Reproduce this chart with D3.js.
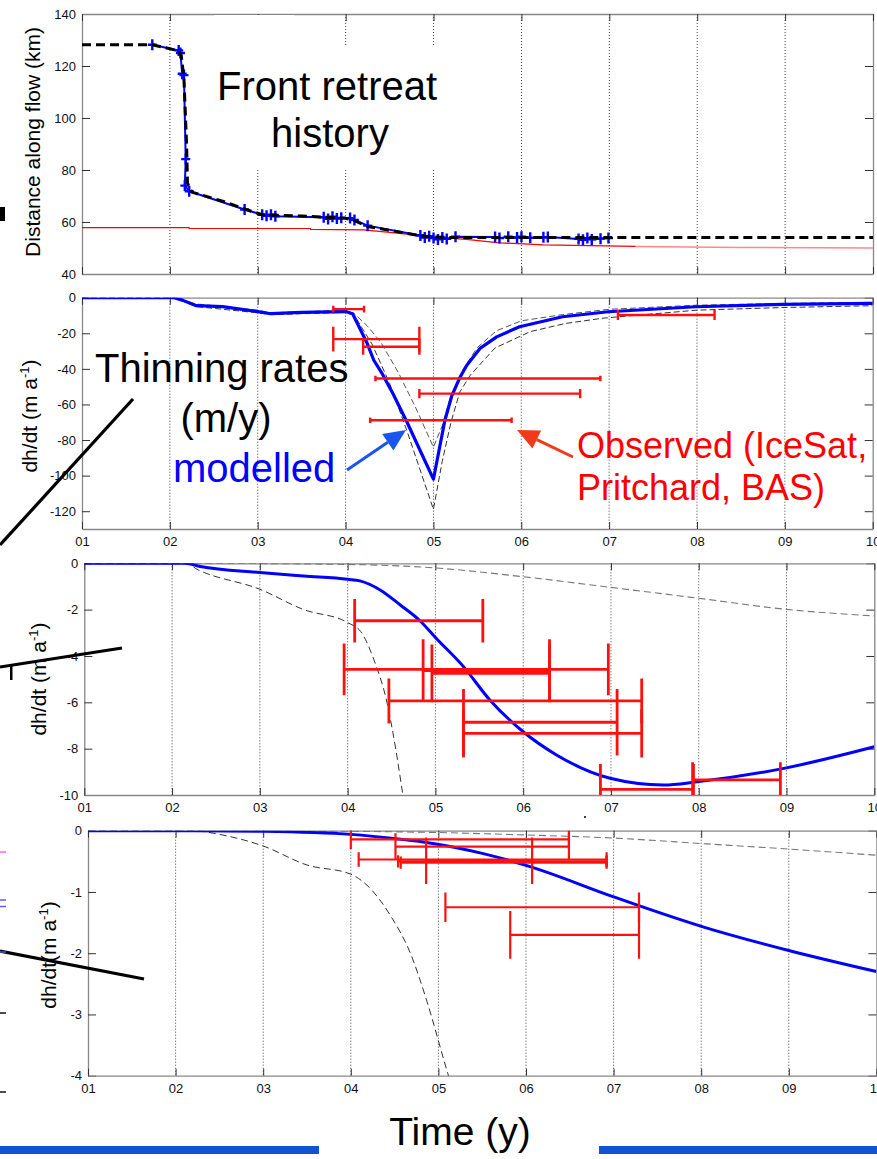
<!DOCTYPE html>
<html>
<head>
<meta charset="utf-8">
<script src="https://cdn.jsdelivr.net/npm/d3@7"></script>
<style>
  body { margin: 0; background: #fff; }
  svg text { font-family: "Liberation Sans", Arial, Helvetica, sans-serif; }
</style>
</head>
<body>
<div id="plot"></div>
<script>
// ---- data (decimal years) ----
const years = d3.range(2001, 2011);

// panel 1: front position (km along flow)
const frontModel = [[2001,128.2],[2001.8,128.2],[2002.1,125.8],[2002.13,124],[2002.16,115],[2002.19,90],
  [2002.2,75],[2002.25,71.5],[2002.6,68],[2002.85,65],[2003.05,62.8],[2003.5,62.3],[2004.0,61.4],
  [2004.1,60.5],[2004.25,58.3],[2004.5,56.8],[2004.8,55],[2005.0,54.2],[2005.3,54],[2010,54]];
const frontObs = [[2001.8,128.2],[2002.1,126],[2002.12,125],[2002.14,117],[2002.16,116.5],[2002.18,84.2],
  [2002.17,74],[2002.22,71.8],[2002.85,64.8],[2003.05,62.8],[2003.1,62.4],[2003.15,62.8],[2003.2,62.2],
  [2003.75,61.8],[2003.8,61.2],[2003.85,62],[2003.9,61.3],[2003.95,61.6],[2004.05,61.5],[2004.1,60.8],
  [2004.25,58.6],[2004.85,54.8],[2004.9,54],[2004.95,54.5],[2005.0,53.8],[2005.05,53.3],[2005.1,54],
  [2005.15,53.5],[2005.25,54.3],[2005.7,54.2],[2005.75,53.8],[2005.85,54.3],[2005.95,54],[2006.0,54.3],
  [2006.1,53.9],[2006.25,54.1],[2006.3,54.2],[2006.65,53.5],[2006.7,53.2],[2006.75,53.8],[2006.8,53.3],
  [2006.9,53.6],[2006.99,53.8]];
const groundRed = [[2001,57.8],[2002.22,57.8],[2002.22,57.5],[2003.6,57.5],[2003.6,57.2],[2004.2,57],
  [2004.5,56],[2005,54.3],[2005.4,53.2],[2005.75,52],[2006.25,51.2],[2007.3,50.6]];
const groundPink = [[2007.3,50.6],[2008.5,50.2],[2010,50]];

// panel 2: thinning rates near the front
const model2 = [[2001,0],[2002.05,0],[2002.15,-1.5],[2002.3,-4.5],[2002.6,-5],[2003.0,-7.8],[2003.15,-9],
  [2003.5,-8.3],[2004.0,-7.8],[2004.08,-9],[2004.16,-17],[2004.24,-25],[2004.32,-35],[2004.42,-43],
  [2004.54,-54],[2004.7,-70],[2004.85,-86],[2005.0,-102],[2005.13,-69],[2005.21,-55],[2005.3,-45],
  [2005.38,-38],[2005.53,-28.5],[2005.72,-22],[2005.98,-16.3],[2006.47,-10.7],[2006.99,-7.9],
  [2007.99,-5.1],[2008.98,-3.7],[2010,-3.2]];
const upper2 = [[2001,0],[2002.05,0],[2002.3,-3.5],[2003,-7],[2003.15,-8.5],[2004.0,-7],[2004.1,-9],
  [2004.25,-16],[2004.4,-25],[2004.6,-42],[2004.8,-62],[2005.0,-84],[2005.1,-72],[2005.2,-55],
  [2005.34,-40],[2005.5,-28],[2005.72,-18.5],[2006.0,-13],[2006.47,-9.5],[2007,-6.5],[2008,-4.2],
  [2009,-3.2],[2010,-2.6]];
const lower2 = [[2001,0],[2002.05,0],[2002.3,-5],[2003,-8.5],[2003.15,-9.5],[2004.0,-8.3],[2004.1,-10],
  [2004.3,-26],[2004.5,-48],[2004.7,-75],[2005.0,-119],[2005.1,-92],[2005.2,-70],[2005.3,-53],
  [2005.42,-43.5],[2005.7,-28.3],[2006.1,-19.1],[2006.5,-14.5],[2006.93,-11.5],[2008,-7],[2009,-5.5],
  [2010,-4.5]];
// observed: [start, end, dh/dt, vertical error]
const obs2 = [[2003.86,2004.21,-6.4,1.9],[2003.86,2004.84,-23.3,7],[2004.2,2004.84,-27.6,4.5],
  [2004.34,2006.9,-45.4,1.5],[2004.84,2006.67,-53.9,2.6],[2004.28,2005.89,-68.9,1.5],
  [2007.1,2008.2,-9.7,2.8]];

// panel 3: thinning rates further inland
const model3 = [[2001,0],[2002.15,0],[2002.32,-0.14],[2003,-0.4],[2003.5,-0.55],[2004,-0.69],[2004.14,-0.76],
  [2004.37,-1.15],[2004.6,-1.8],[2004.83,-2.5],[2005.0,-3.2],[2005.32,-4.46],[2005.62,-5.9],[2006.0,-7.27],
  [2006.38,-8.27],[2006.99,-9.28],[2007.6,-9.57],[2007.98,-9.43],[2008.97,-8.85],[2010,-7.92]];
const upper3 = [[2001,0],[2002.15,0],[2004,-0.05],[2005,-0.2],[2006,-0.58],[2007,-1.04],[2008,-1.51],
  [2009,-1.99],[2010,-2.27]];
const lower3 = [[2001,0],[2002.15,0],[2002.3,-0.29],[2003,-1.12],[2003.5,-2.0],[2004,-2.56],[2004.15,-2.95],
  [2004.3,-4.17],[2004.45,-6.04],[2004.55,-8.06],[2004.63,-10],[2004.7,-11.5]];
const obs3 = [[2004.08,2005.54,-2.48,0.94],[2003.96,2006.97,-4.58,1.12],[2004.86,2006.3,-4.63,1.35],
  [2004.96,2006.3,-4.75,1.25],[2004.47,2007.35,-5.94,0.97],[2005.32,2007.07,-6.86,1.44],
  [2005.32,2007.35,-7.34,1.04],[2006.88,2007.94,-9.76,1.1],[2007.93,2008.93,-9.35,0.76]];

// panel 4: thinning rates far inland
const model4 = [[2001,0],[2002.2,0],[2003,-0.01],[2004,-0.06],[2004.57,-0.14],[2004.9,-0.2],[2005.5,-0.37],
  [2006.01,-0.57],[2007,-1.08],[2007.28,-1.22],[2008.02,-1.57],[2009.01,-1.96],[2010,-2.3]];
const upper4 = [[2001,0],[2002.2,0],[2004,-0.01],[2005,-0.03],[2006,-0.07],[2007,-0.12],[2008,-0.21],
  [2009,-0.3],[2010,-0.4]];
const lower4 = [[2001,0],[2002.2,0],[2002.5,-0.06],[2003,-0.25],[2003.5,-0.56],[2004,-0.71],[2004.22,-0.94],
  [2004.45,-1.38],[2004.68,-2.0],[2004.87,-2.79],[2005.09,-3.88],[2005.2,-4.4]];
const obs4 = [[2004.0,2006.49,-0.14,0.16],[2004.51,2006.49,-0.26,0.22],[2004.09,2006.92,-0.47,0.12],
  [2004.54,2006.92,-0.5,0.1],[2004.57,2006.92,-0.52,0.1],[2004.86,2006.07,-0.49,0.38],
  [2005.08,2007.29,-1.25,0.24],[2005.82,2007.29,-1.7,0.39]];

const ticks1 = [40,60,80,100,120,140];
const ticks2 = [0,-20,-40,-60,-80,-100,-120];
const ticks3 = [0,-2,-4,-6,-8,-10];
const ticks4 = [0,-1,-2,-3,-4];

// ---- drawing ----
const W = 877, H = 1159;
const svg = d3.select("#plot").append("svg").attr("width", W).attr("height", H);
const defs = svg.append("defs");

function panel(id, left, right, top, bottom, yDomain, yTicks, xLabels) {
  const x = d3.scaleLinear().domain([2001, 2010]).range([left, right]);
  const y = d3.scaleLinear().domain(yDomain).range([bottom, top]);
  const g = svg.append("g");
  defs.append("clipPath").attr("id", "clip" + id)
    .append("rect").attr("x", left).attr("y", top).attr("width", right - left).attr("height", bottom - top);

  // dotted vertical grid
  g.append("g").selectAll("line").data(years.slice(1, -1)).enter().append("line")
    .attr("x1", d => x(d)).attr("x2", d => x(d)).attr("y1", top).attr("y2", bottom)
    .attr("stroke", "#444").attr("stroke-width", 1).attr("stroke-dasharray", "1,2");

  const ax = (sel) => { sel.select(".domain").attr("stroke", "#888").attr("stroke-width", 1.3);
    sel.selectAll(".tick line").attr("stroke", "#333");
    sel.selectAll("text").attr("font-size", 13).attr("fill", "#111"); };

  g.append("g").attr("transform", "translate(" + left + ",0)")
    .call(d3.axisLeft(y).tickValues(yTicks).tickSize(-8).tickPadding(6).tickSizeOuter(0)
      .tickFormat(d => String(d))).call(ax);
  g.append("g").attr("transform", "translate(" + right + ",0)")
    .call(d3.axisRight(y).tickValues(yTicks).tickSize(-8).tickFormat("").tickSizeOuter(0)).call(ax);
  g.append("g").attr("transform", "translate(0," + bottom + ")")
    .call(d3.axisBottom(x).tickValues(years).tickSize(-7).tickPadding(8).tickSizeOuter(0)
      .tickFormat(xLabels ? (d => String(d).slice(2)) : "")).call(ax);
  g.append("g").attr("transform", "translate(0," + top + ")")
    .call(d3.axisTop(x).tickValues(years).tickSize(-7).tickFormat("").tickSizeOuter(0)).call(ax);

  const data = svg.append("g").attr("clip-path", "url(#clip" + id + ")");
  return { x, y, g, data };
}

function drawLine(p, pts, color, width, dash, curve) {
  p.data.append("path").datum(pts)
    .attr("d", d3.line().x(d => p.x(d[0])).y(d => p.y(d[1])).curve(curve || d3.curveLinear))
    .attr("fill", "none").attr("stroke", color).attr("stroke-width", width)
    .attr("stroke-dasharray", dash || null).attr("stroke-linejoin", "round");
}

function drawBars(p, rows, color, width) {
  const gb = p.data.append("g").attr("stroke", color).attr("stroke-width", width);
  rows.forEach(r => {
    gb.append("line").attr("x1", p.x(r[0])).attr("x2", p.x(r[1])).attr("y1", p.y(r[2])).attr("y2", p.y(r[2]));
    [r[0], r[1]].forEach(xv => gb.append("line").attr("x1", p.x(xv)).attr("x2", p.x(xv))
      .attr("y1", p.y(r[2] - r[3])).attr("y2", p.y(r[2] + r[3])));
  });
}

function yLabel(cx, cy, size, main, sup, tail) {
  const t = svg.append("text").attr("transform", "translate(" + cx + "," + cy + ") rotate(-90)")
    .attr("text-anchor", "middle").attr("font-size", size).attr("fill", "#000");
  t.append("tspan").text(main);
  if (sup) {
    t.append("tspan").attr("font-size", size * 0.62).attr("dy", -size * 0.4).text(sup);
    t.append("tspan").attr("dy", size * 0.4).text(tail);
  }
}

function arrow(x1, y1, x2, y2, color, w, hl, hw) {
  const a = Math.atan2(y2 - y1, x2 - x1), c = Math.cos(a), s = Math.sin(a);
  const bx = x2 - hl * c, by = y2 - hl * s;
  svg.append("line").attr("x1", x1).attr("y1", y1).attr("x2", bx).attr("y2", by)
    .attr("stroke", color).attr("stroke-width", w);
  svg.append("path").attr("fill", color)
    .attr("d", "M" + x2 + "," + y2 + "L" + (bx - hw * s) + "," + (by + hw * c) + "L" + (bx + hw * s) + "," + (by - hw * c) + "Z");
}

// panel 1
const p1 = panel("1", 82, 873, 14, 274, [40, 140], ticks1, false);
// white label box over the grid
svg.append("rect").attr("x", 214).attr("y", 15).attr("width", 80).attr("height", 152).attr("fill", "#fff");
svg.append("rect").attr("x", 214).attr("y", 47).attr("width", 240).attr("height", 121).attr("fill", "#fff");
drawLine(p1, groundRed, "#ff0000", 1.2);
drawLine(p1, groundPink, "#ff8888", 1.6);
drawLine(p1, frontObs, "#0000ff", 2);
p1.data.append("g").selectAll("path").data(frontObs).enter().append("path")
  .attr("d", d => { const cx = p1.x(d[0]), cy = p1.y(d[1]); return "M" + (cx - 4.5) + "," + cy + "h9M" + cx + "," + (cy - 5.5) + "v11"; })
  .attr("stroke", "#0000ff").attr("stroke-width", 2.4);
drawLine(p1, frontModel, "#000", 3, "9,5");
svg.append("rect").attr("x", 0).attr("y", 279).attr("width", 82).attr("height", 12).attr("fill", "#fff");
yLabel(40, 142, 21, "Distance along flow (km)");
svg.append("text").attr("x", 217).attr("y", 100).attr("font-size", 40).text("Front retreat");
svg.append("text").attr("x", 330).attr("y", 147).attr("font-size", 40).attr("text-anchor", "middle").text("history");

// panel 2
const p2 = panel("2", 82, 872.7, 297.7, 529, [-130, 0], ticks2, true);
drawLine(p2, upper2, "#555", 1, "6,3");
drawLine(p2, lower2, "#333", 1, "6,3");
drawLine(p2, model2, "#0000ff", 3.2);
drawBars(p2, obs2, "#ff1010", 2.4);
yLabel(37, 416, 21, "dh/dt (m a", "-1", ")");

// panel 3
const p3 = panel("3", 84.3, 874.3, 563.3, 795, [-10, 0], ticks3, true);
drawLine(p3, upper3, "#777", 1.1, "7,4", d3.curveMonotoneX);
drawLine(p3, lower3, "#333", 1, "7,4", d3.curveMonotoneX);
drawLine(p3, model3, "#0000ff", 3, null, d3.curveMonotoneX);
drawBars(p3, obs3, "#ff1010", 2.8);
yLabel(46, 679, 21, "dh/dt (m a", "-1", ")");

// panel 4
const p4 = panel("4", 88, 876.4, 830.7, 1075.7, [-4, 0], ticks4, true);
drawLine(p4, upper4, "#777", 1.1, "7,4", d3.curveMonotoneX);
drawLine(p4, lower4, "#333", 1, "7,4", d3.curveMonotoneX);
drawLine(p4, model4, "#0000ff", 3, null, d3.curveMonotoneX);
drawBars(p4, obs4, "#ff1010", 2.2);
yLabel(56, 955, 21, "dh/dt(m a", "-1", ")");

// annotations
svg.append("text").attr("x", 95).attr("y", 382).attr("font-size", 40).text("Thinning rates");
svg.append("text").attr("x", 226).attr("y", 432).attr("font-size", 40).attr("text-anchor", "middle").text("(m/y)");
svg.append("text").attr("x", 173).attr("y", 482).attr("font-size", 40).attr("fill", "#0000ff").text("modelled");
svg.append("text").attr("x", 577).attr("y", 458).attr("font-size", 36).attr("fill", "#ff0000").text("Observed (IceSat,");
svg.append("text").attr("x", 577).attr("y", 500).attr("font-size", 36).attr("fill", "#ff0000").text("Pritchard, BAS)");
arrow(347, 470, 406, 430, "#1a55ee", 3, 22, 10);
arrow(573, 457, 517, 430, "#f03a1a", 3, 22, 10);
svg.append("text").attr("x", 460).attr("y", 1145).attr("font-size", 39).attr("text-anchor", "middle").text("Time (y)");

// leftover strokes from the slide
const slash = svg.append("g").attr("stroke", "#000").attr("stroke-width", 3.2);
slash.append("line").attr("x1", 0).attr("y1", 545).attr("x2", 133).attr("y2", 399);
slash.append("line").attr("x1", 0).attr("y1", 667).attr("x2", 122).attr("y2", 648);
slash.append("line").attr("x1", 0).attr("y1", 951).attr("x2", 144).attr("y2", 979);
svg.append("rect").attr("x", 0).attr("y", 207).attr("width", 5).attr("height", 14).attr("fill", "#000");
svg.append("rect").attr("x", 10).attr("y", 665).attr("width", 2.5).attr("height", 15).attr("fill", "#000");
[[852, "#ff55ff"], [900, "#5555ff"], [906.5, "#5555ff"], [952, "#5555ff"], [1013, "#000"], [1092, "#000"]]
  .forEach(m => svg.append("rect").attr("x", 0).attr("y", m[0] - 0.7).attr("width", 6).attr("height", 1.4).attr("fill", m[1]));
svg.append("rect").attr("x", 0).attr("y", 1146).attr("width", 319).attr("height", 8).attr("fill", "#1252d4");
svg.append("rect").attr("x", 599).attr("y", 1146).attr("width", 278).attr("height", 8).attr("fill", "#1252d4");
svg.append("circle").attr("cx", 585).attr("cy", 817).attr("r", 1).attr("fill", "#000");
</script>
</body>
</html>
